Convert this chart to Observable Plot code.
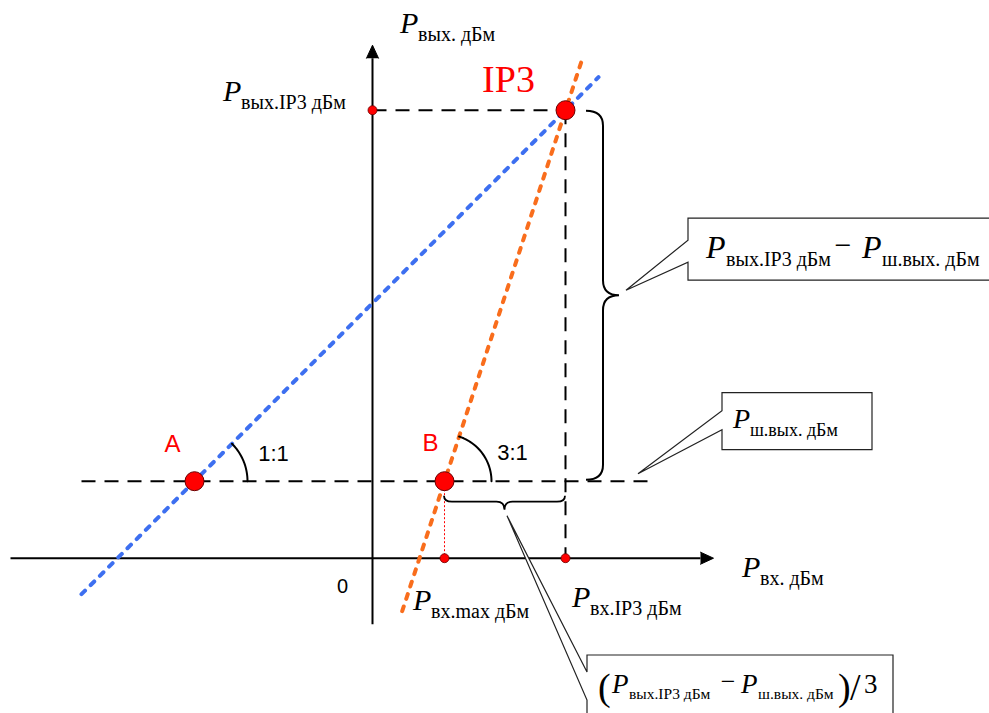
<!DOCTYPE html>
<html>
<head>
<meta charset="utf-8">
<script src="https://cdn.jsdelivr.net/npm/d3@7"></script>
<script src="https://cdn.jsdelivr.net/npm/@observablehq/plot@0.6"></script>
<style>
  html, body { margin: 0; padding: 0; background: #fff; }
  svg { display: block; }
</style>
</head>
<body>
<div id="chart"></div>
<script>
// ---------- DATA (dBm) ----------
// Key points: input power, output power
const pointNames = ["A", "B", "IP3"];
const pointIn    = [-17.8, 7.2, 19.3];
const pointOut   = [7.7, 7.7, 44.8];

// Characteristic lines (end points)
const line1In  = [-29.1, 22.6];   // 1:1 (fundamental)
const line1Out = [-3.6, 48.1];
const line3In  = [2.97, 20.97];   // 3:1 (3rd order products)
const line3Out = [-5.3, 49.9];

// Axis extents
const xAxisIn  = [-36.2, 34.1];
const yAxisOut = [-6.6, 51.3];

// Noise floor (P ш.вых.) dashed line extent
const noiseIn = [-29.1, 28.3];

// Small marker dots on the axes
const tickIn  = [0, 7.2, 19.3];
const tickOut = [44.8, 0, 0];

// Slope labels
const slopeLabels = ["1:1", "3:1"];
const zeroLabel = "0";

// ---------- STYLE ----------
const SERIF = "'Liberation Serif','Times New Roman',serif";
const SANS  = "'Liberation Sans',Arial,sans-serif";
const BLUE = "#3d6ff0", ORANGE = "#f96d1c", RED = "#ff0000", DARKRED = "#6a0000";

const [iA, iB, iIP3] = [0, 1, 2];
const noiseOut = pointOut[iA];

// tables built from the arrays
const line1 = line1In.map((x, i) => ({x, y: line1Out[i]}));
const line3 = line3In.map((x, i) => ({x, y: line3Out[i]}));
const guides = [
  {x1: noiseIn[0], y1: noiseOut, x2: noiseIn[1], y2: noiseOut},
  {x1: 0, y1: pointOut[iIP3], x2: pointIn[iIP3], y2: pointOut[iIP3]},
  {x1: pointIn[iIP3], y1: pointOut[iIP3], x2: pointIn[iIP3], y2: 0}
];
const HEAD_L = 1.3, HEAD_W = 0.6; // arrow head in axis units
const xHead = [{x: xAxisIn[1] - HEAD_L, y: HEAD_W}, {x: xAxisIn[1], y: 0}, {x: xAxisIn[1] - HEAD_L, y: -HEAD_W}];
const yHead = [{x: -HEAD_W, y: yAxisOut[1] - HEAD_L}, {x: 0, y: yAxisOut[1]}, {x: HEAD_W, y: yAxisOut[1] - HEAD_L}];

function arc(cx, cy, r, a1) {
  const pts = [];
  for (let a = 0; a <= a1 + 0.001; a += a1 / 24) pts.push({x: cx + r * Math.cos(a), y: cy + r * Math.sin(a)});
  return pts;
}
const arcA = arc(pointIn[iA], pointOut[iA], 5.3, Math.PI / 4);
const arcB = arc(pointIn[iB], pointOut[iB], 4.7, Math.atan2(pointOut[iIP3] - pointOut[iB], pointIn[iIP3] - pointIn[iB]));

const X_DOMAIN = [-37.2, 61.7], Y_DOMAIN = [-15.53, 55.77];

// ---------- custom drawing helpers (use Plot's scales) ----------
function custom(draw) {
  return (index, scales) => {
    let sx = scales && scales.x, sy = scales && scales.y;
    if (typeof sx !== "function") sx = d3.scaleLinear(X_DOMAIN, [0, 989]);
    if (typeof sy !== "function") sy = d3.scaleLinear(Y_DOMAIN, [713, 0]);
    const g = d3.create("svg:g").attr("text-anchor", "start");
    draw(g, sx, sy);
    return g.node();
  };
}
function txt(g, x, y, s, size, opts = {}) {
  const t = g.append("text").attr("x", x).attr("y", y).text(s)
    .attr("font-family", opts.family || SERIF).attr("font-size", size)
    .attr("fill", opts.fill || "black")
    .attr("text-anchor", opts.anchor || "start");
  if (opts.italic) t.attr("font-style", "italic");
  return t;
}
// P with subscript
function psub(g, x, y, sub, pSize = 30, sSize = 20, gap = 18, drop = 8) {
  txt(g, x, y, "P", pSize, {italic: true});
  txt(g, x + gap, y + drop, sub, sSize);
}

const braces = custom((g, x, y) => {
  // vertical brace right of IP3 column
  const X = x(pointIn[iIP3]) + 38, T = y(pointOut[iIP3]) + 1, B = y(noiseOut) - 1, M = (T + B) / 2;
  const r = 15;
  g.append("path").attr("d",
    `M${X - 17},${T} Q${X},${T} ${X},${T + r} L${X},${M - r} Q${X},${M} ${X + 16},${M}` +
    ` Q${X},${M} ${X},${M + r} L${X},${B - r} Q${X},${B} ${X - 17},${B}`)
    .attr("fill", "none").attr("stroke", "black").attr("stroke-width", 2);
  // horizontal brace under noise line between B and IP3 input
  const L = x(pointIn[iB]), R = x(pointIn[iIP3]), Y = y(noiseOut) + 21, MX = (L + R) / 2;
  g.append("path").attr("d",
    `M${L},${Y - 6} Q${L},${Y} ${L + 8},${Y} L${MX - 8},${Y} Q${MX},${Y} ${MX},${Y + 8}` +
    ` Q${MX},${Y} ${MX + 8},${Y} L${R - 8},${Y} Q${R},${Y} ${R},${Y - 6}`)
    .attr("fill", "none").attr("stroke", "black").attr("stroke-width", 1.8);
});

function callout(g, box, tip, a1, a2) {
  const [l, t, r, b] = box;
  g.append("path").attr("d",
    `M${l},${a1} L${l},${t} L${r},${t} L${r},${b} L${l},${b} L${l},${a2} L${tip[0]},${tip[1]} Z`)
    .attr("fill", "white").attr("stroke", "#222").attr("stroke-width", 1.2);
}

const callouts = custom((g, x, y) => {
  // box 1: P вых.IP3 - P ш.вых.
  const bx = x(pointIn[iIP3]) + 54, by = y((pointOut[iIP3] + noiseOut) / 2);
  callout(g, [688, by - 77, 1000, by - 15], [bx + 7, by - 5], by - 55, by - 33);
  psub(g, 706, by - 37, "вых.IP3 дБм", 32, 20, 20, 8);
  txt(g, 843, by - 40, "−", 30, {anchor: "middle"});
  psub(g, 862, by - 37, "ш.вых. дБм", 32, 20, 20, 8);

  // box 2: P ш.вых.
  const nx = x(noiseIn[1]), ny = y(noiseOut);
  callout(g, [nx + 67, ny - 88, nx + 217, ny - 31], [nx - 17, ny - 7], ny - 70, ny - 51);
  psub(g, nx + 78, ny - 53, "ш.вых. дБм", 28, 18, 17, 8);

  // box 3: (P вых.IP3 - P ш.вых.)/3
  const hx = (x(pointIn[iB]) + x(pointIn[iIP3])) / 2, hy = y(noiseOut) + 29;
  callout(g, [587, 655, 893, 760], [hx + 2.5, hy + 6], 672, 700);
  txt(g, 598, 700, "(", 38);
  psub(g, 612, 693, "вых.IP3 дБм", 27, 15.5, 17, 6);
  txt(g, 728, 690, "−", 26, {anchor: "middle"});
  psub(g, 741, 693, "ш.вых. дБм", 27, 15.5, 17, 6);
  txt(g, 838, 700, ")", 38);
  txt(g, 850, 700, "/", 38);
  txt(g, 864, 693, "3", 27);
});

const axisLabels = custom((g, x, y) => {
  psub(g, x(0) + 28, y(yAxisOut[1]) - 12, "вых. дБм");
  psub(g, x(0) - 149, y(pointOut[iIP3]) - 9, "вых.IP3 дБм");
  psub(g, x(xAxisIn[1]) + 29, y(0) + 19, "вх. дБм");
  psub(g, x(pointIn[iB]) - 31, y(0) + 52, "вх.max дБм");
  psub(g, x(pointIn[iIP3]) + 7, y(0) + 49, "вх.IP3 дБм");
});

const chart = Plot.plot({
  width: 989,
  height: 713,
  margin: 0,
  style: {background: "white", overflow: "hidden"},
  x: {domain: X_DOMAIN, range: [0, 989], axis: null},
  y: {domain: Y_DOMAIN, range: [713, 0], axis: null},
  marks: [
    // dashed guide lines
    Plot.link(guides, {x1: "x1", y1: "y1", x2: "x2", y2: "y2", stroke: "black", strokeWidth: 2, strokeDasharray: "14,9"}),
    // axes
    Plot.link([0], {x1: xAxisIn[0], x2: xAxisIn[1] - HEAD_L, y1: 0, y2: 0, stroke: "black", strokeWidth: 2}),
    Plot.link([0], {x1: 0, x2: 0, y1: yAxisOut[0], y2: yAxisOut[1] - HEAD_L, stroke: "black", strokeWidth: 2}),
    Plot.line(xHead, {x: "x", y: "y", fill: "black", stroke: "black", strokeWidth: 1}),
    Plot.line(yHead, {x: "x", y: "y", fill: "black", stroke: "black", strokeWidth: 1}),
    // red dotted projection of B
    Plot.link([0], {x1: pointIn[iB], x2: pointIn[iB], y1: pointOut[iB], y2: 0, stroke: RED, strokeWidth: 1, strokeDasharray: "2,2"}),
    // characteristic lines
    Plot.line(line1, {x: "x", y: "y", stroke: BLUE, strokeWidth: 4, strokeDasharray: "5,8", strokeLinecap: "round"}),
    Plot.line(line3, {x: "x", y: "y", stroke: ORANGE, strokeWidth: 4, strokeDasharray: "5,8", strokeLinecap: "round"}),
    // angle arcs
    Plot.line(arcA, {x: "x", y: "y", stroke: "black", strokeWidth: 2}),
    Plot.line(arcB, {x: "x", y: "y", stroke: "black", strokeWidth: 2}),
    braces,
    callouts,
    // dots
    Plot.dot(tickIn, {x: d => d, y: (d, i) => tickOut[i], r: 4.5, fill: RED, stroke: DARKRED, strokeWidth: 0.8}),
    Plot.dot(pointNames, {x: (d, i) => pointIn[i], y: (d, i) => pointOut[i], r: 9.5, fill: RED, stroke: DARKRED, strokeWidth: 1}),
    // point labels
    Plot.text([iA], {x: i => pointIn[i], y: i => pointOut[i], text: i => pointNames[i], dx: -22, dy: -37, fill: RED, fontSize: 24, fontFamily: SANS}),
    Plot.text([iB], {x: i => pointIn[i], y: i => pointOut[i], text: i => pointNames[i], dx: -14, dy: -38, fill: RED, fontSize: 24, fontFamily: SANS}),
    Plot.text([iIP3], {x: i => pointIn[i], y: i => pointOut[i], text: i => pointNames[i], dx: -57, dy: -30, fill: RED, fontSize: 38, fontFamily: SERIF}),
    Plot.text([iA], {x: i => pointIn[i], y: i => pointOut[i], text: () => slopeLabels[0], dx: 79, dy: -27, fill: "black", fontSize: 22, fontFamily: SANS}),
    Plot.text([iB], {x: i => pointIn[i], y: i => pointOut[i], text: () => slopeLabels[1], dx: 68, dy: -28, fill: "black", fontSize: 22, fontFamily: SANS}),
    Plot.text([0], {x: 0, y: 0, text: () => zeroLabel, dx: -30, dy: 28, fill: "black", fontSize: 20, fontFamily: SANS}),
    axisLabels
  ]
});
document.getElementById("chart").appendChild(chart);
</script>
</body>
</html>
